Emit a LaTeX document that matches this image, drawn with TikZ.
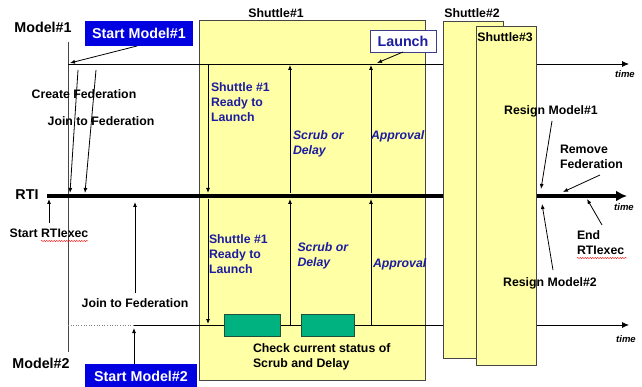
\documentclass[tikz,border=0pt]{standalone}
\usepackage{fontspec}
\setmainfont{Liberation Sans}
\usetikzlibrary{arrows.meta,decorations.pathmorphing}

\definecolor{padyellow}{RGB}{255,255,166}
\definecolor{edgegray}{RGB}{70,70,70}
\definecolor{startblue}{RGB}{0,0,224}
\definecolor{txtblue}{RGB}{28,28,160}
\definecolor{statusgreen}{RGB}{0,178,128}
\definecolor{statusedge}{RGB}{30,80,60}
\definecolor{launchedge}{RGB}{60,60,140}

\begin{document}
\begin{tikzpicture}[x=1pt,y=-1pt,
  line width=0.8pt,
  every node/.style={inner sep=0pt, outer sep=0pt},
  lbl/.style={font=\fontsize{12.3}{15}\selectfont\bfseries, anchor=base},
  biglbl/.style={font=\fontsize{14.3}{17}\selectfont\bfseries, anchor=base},
  note/.style={font=\fontsize{12.3}{15}\selectfont\bfseries, align=left, anchor=north west},
  bluenote/.style={note, text=txtblue},
  blueit/.style={note, text=txtblue, font=\fontsize{12.3}{15}\selectfont\bfseries\itshape},
  timelbl/.style={font=\fontsize{9.5}{11}\selectfont\bfseries\itshape, anchor=base},
  shuttle/.style={draw=edgegray, fill=padyellow, anchor=north west},
  startbox/.style={fill=startblue, text=white, font=\fontsize{14.3}{17}\selectfont\bfseries,
                   anchor=north west, minimum height=25pt},
  statusbox/.style={draw=statusedge, fill=statusgreen, anchor=north west,
                    minimum width=#1, minimum height=22pt},
  tip/.style={-{Latex[length=5pt,width=4pt]}},
  timeline/.style={-{Latex[length=7pt,width=6pt]}},
  spell/.style={red, line width=0.4pt, decorate,
                decoration={snake, amplitude=0.6pt, segment length=2.5pt}}
]
\useasboundingbox (0,0) rectangle (642,387);

% ---- the first shuttle's window, behind the time lines
\node[shuttle, minimum width=226pt, minimum height=360pt] (sh1) at (199,20) {};

% ---- time lines
\coordinate (m1a) at (68,64);   \coordinate (m1b) at (629,64);
\coordinate (m2d) at (68,325);  \coordinate (m2a) at (134,325); \coordinate (m2b) at (629,325);
\coordinate (rtia) at (47,196); \coordinate (rtib) at (627,196);
\coordinate (lifetop) at (68,42); \coordinate (lifebot) at (68,352);

\draw[edgegray] (lifetop) -- (lifebot);
\draw[timeline] (m1a) -- (m1b);
\draw[gray, dotted, line width=0.6pt] (m2d) -- (m2a);
\draw[timeline] (m2a) -- (m2b);
\draw[line width=3.5pt, -{Latex[length=11pt,width=11pt]}] (rtia) -- (rtib);

% ---- messages inside the first shuttle's window
\coordinate (ra1) at (208,64);  \coordinate (ra2) at (208,193);
\coordinate (ra3) at (208,199); \coordinate (ra4) at (208,324);
\draw[tip] (ra1) -- (ra2);
\draw[tip] (ra3) -- (ra4);
\coordinate (sc1) at (290,325); \coordinate (sc2) at (290,199);
\coordinate (sc3) at (290,193); \coordinate (sc4) at (290,65);
\draw[tip] (sc1) -- (sc2);
\draw[tip] (sc3) -- (sc4);
\coordinate (ap1) at (371,325); \coordinate (ap2) at (371,199);
\coordinate (ap3) at (371,193); \coordinate (ap4) at (371,65);
\draw[tip] (ap1) -- (ap2);
\draw[tip] (ap3) -- (ap4);

% ---- status checks on the second model's line
\node[statusbox=56pt] (chk1) at (224,314) {};
\node[statusbox=53pt] (chk2) at (301,314) {};

% ---- the later shuttles, over the time lines
\node[shuttle, minimum width=60pt, minimum height=337pt] (sh2) at (443,21) {};
\node[shuttle, minimum width=60pt, minimum height=339pt] (sh3) at (476,26) {};

% ---- titles
\node[lbl] (sh1t) at (276,17.4) {Shuttle\#1};
\node[lbl] (sh2t) at (472,17.4) {Shuttle\#2};
\node[lbl] (sh3t) at (505,41.4) {Shuttle\#3};
\node[biglbl] (m1t) at (43,33) {Model\#1};
\node[biglbl] (m2t) at (41,368) {Model\#2};
\node[biglbl] (rtit) at (27,200) {RTI};
\node[timelbl] (time1) at (625,77.5) {time};
\node[timelbl] (time2) at (624,211) {time};
\node[timelbl] (time3) at (626,342) {time};

% ---- start boxes and launch
\node[startbox, minimum width=108pt] (sm1) at (85,21) {Start Model\#1};
\node[startbox, minimum width=112pt] (sm2) at (85,364) {Start Model\#2};
\node[draw=launchedge, fill=white, text=txtblue, font=\fontsize{14.3}{17}\selectfont\bfseries,
      anchor=north west, minimum width=66pt, minimum height=22pt] (launch) at (370,30) {Launch};

\coordinate (sm1hit) at (70,63);
\draw[tip] ([xshift=-2pt]sm1.south) -- (sm1hit);
\coordinate (sm2hit) at (134,328);
\draw[tip] ([xshift=-7pt]sm2.north) -- (sm2hit);
\coordinate (launchhit) at (377,63);
\draw[tip] (launch.south) -- (launchhit);

% ---- left-hand labels and their messages
\node[lbl] (createfed) at (84,98.4) {Create Federation};
\node[lbl] (joinfed1) at (101,125.4) {Join to Federation};
\node[lbl] (startrti) at (49,237.4) {Start RTIexec};
\node[lbl] (joinfed2) at (135,307.4) {Join to Federation};

\coordinate (cf1) at (78,70);  \coordinate (cf2) at (70,193);
\draw[tip] (cf1) -- (cf2);
\coordinate (jf1) at (96,70);  \coordinate (jf2) at (85,193);
\draw[tip] (jf1) -- (jf2);
\coordinate (sr1) at (49,223); \coordinate (sr2) at (49,199);
\draw[tip] (sr1) -- (sr2);
\coordinate (jj1) at (135,293); \coordinate (jj2) at (135,202);
\draw[tip] (jj1) -- (jj2);

\draw[spell] (41,241) -- (88,241);

% ---- labels inside the first shuttle's window
\node[bluenote] (ready1) at (211,82.5) {Shuttle \#1\\Ready to\\Launch};
\node[bluenote] (ready2) at (209,234.5) {Shuttle \#1\\Ready to\\Launch};
\node[blueit] (scrub1) at (293,130.5) {Scrub or\\Delay};
\node[blueit] (scrub2) at (297.5,242.5) {Scrub or\\Delay};
\node[blueit, anchor=base west] (appr1) at (371,139.5) {Approval};
\node[blueit, anchor=base west] (appr2) at (373,267.5) {Approval};
\node[note] (check) at (253,343.4) {Check current status of\\Scrub and Delay};

% ---- right-hand labels and their messages
\node[lbl] (resign1) at (551,114.4) {Resign Model\#1};
\node[note] (remfed) at (560,145.4) {Remove\\Federation};
\node[note] (endrti) at (577,230.4) {End\\RTIexec};
\node[lbl] (resign2) at (550,286.4) {Resign Model\#2};

\coordinate (rs1a) at (552,121); \coordinate (rs1b) at (541,189);
\draw[tip] (rs1a) -- (rs1b);
\coordinate (rfa) at (600,175);  \coordinate (rfb) at (563,192);
\draw[tip] (rfa) -- (rfb);
\coordinate (era) at (602,225);  \coordinate (erb) at (587,199);
\draw[tip] (era) -- (erb);
\coordinate (rs2a) at (553,270); \coordinate (rs2b) at (542,204);
\draw[tip] (rs2a) -- (rs2b);

\draw[spell] (577,258) -- (627,258);
\end{tikzpicture}
\end{document}
